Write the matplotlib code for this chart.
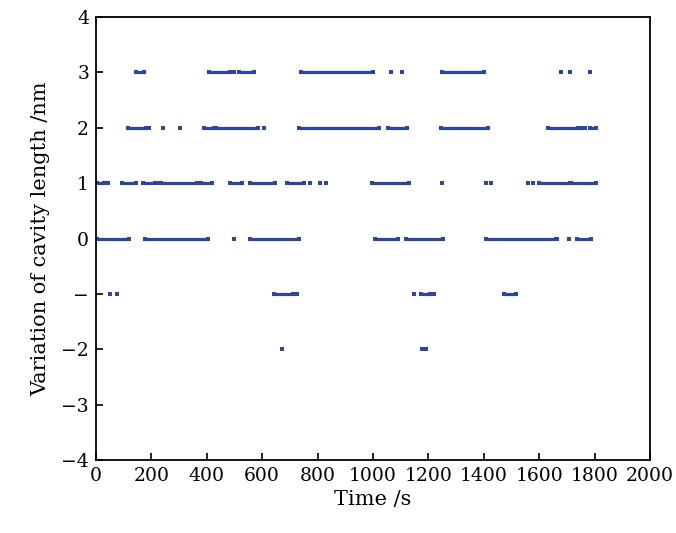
import matplotlib
matplotlib.use("Agg")
import matplotlib.pyplot as plt

# Runs of constant value: (start time s, end time s) for each level
levels = [3, 2, 1, 0, -1, -2]
runs_level_3 = [(143, 173), (408, 484), (499, 499), (516, 571), (739, 999),
                (1064, 1064), (1106, 1106), (1248, 1402), (1679, 1679),
                (1712, 1712), (1785, 1785)]
runs_level_2 = [(114, 181), (190, 190), (241, 241), (305, 305), (391, 426),
                (432, 586), (606, 606), (734, 1020), (1056, 1124),
                (1245, 1414), (1633, 1741), (1750, 1750), (1764, 1764),
                (1783, 1804)]
runs_level_1 = [(5, 30), (40, 44), (95, 146), (171, 213), (219, 219),
                (234, 366), (379, 418), (484, 526), (556, 646), (688, 752),
                (773, 773), (809, 809), (829, 829), (995, 1131), (1248, 1248),
                (1407, 1407), (1426, 1426), (1558, 1558), (1579, 1579),
                (1600, 1711), (1715, 1804)]
runs_level_0 = [(2, 120), (177, 405), (498, 498), (556, 733), (1007, 1091),
                (1119, 1251), (1407, 1659), (1663, 1663), (1708, 1708),
                (1735, 1786)]
runs_level_m1 = [(51, 51), (77, 77), (641, 710), (724, 724), (1149, 1149),
                 (1173, 1206), (1221, 1221), (1473, 1515)]
runs_level_m2 = [(673, 673), (1176, 1191)]
all_runs = [runs_level_3, runs_level_2, runs_level_1, runs_level_0,
            runs_level_m1, runs_level_m2]

x_ticks = [0, 200, 400, 600, 800, 1000, 1200, 1400, 1600, 1800, 2000]
y_ticks = [4, 3, 2, 1, 0, -1, -2, -3, -4]
y_tick_labels = ["4", "3", "2", "1", "0", "\u2212", "\u22122", "\u22123", "\u22124"]

plt.rcParams['font.family'] = ['DejaVu Serif']
fig = plt.figure(figsize=(6.76, 5.33), dpi=100)
ax = fig.add_axes([0.142, 0.137, 0.8195, 0.831])

color = '#2b44a6'
for lvl, runs in zip(levels, all_runs):
    for (t0, t1) in runs:
        ax.plot([t0, t1], [lvl, lvl], color=color, linewidth=2.3,
                solid_capstyle='butt', marker='s', markersize=2.4,
                markeredgewidth=0)

ax.set_xlim(0, 2000)
ax.set_ylim(-4, 4)
ax.set_xticks(x_ticks)
ax.set_xticklabels([str(v) for v in x_ticks])
ax.set_yticks(y_ticks)
ax.set_yticklabels(y_tick_labels)
ax.tick_params(direction='in', length=5, width=1.2, labelsize=13.5,
               top=False, right=False, pad=5)
for sp in ax.spines.values():
    sp.set_linewidth(1.3)
ax.set_xlabel('Time /s', fontsize=15, labelpad=4)
ax.set_ylabel('Variation of cavity length /nm', fontsize=15, labelpad=8)

fig.savefig('out.png', dpi=100)
